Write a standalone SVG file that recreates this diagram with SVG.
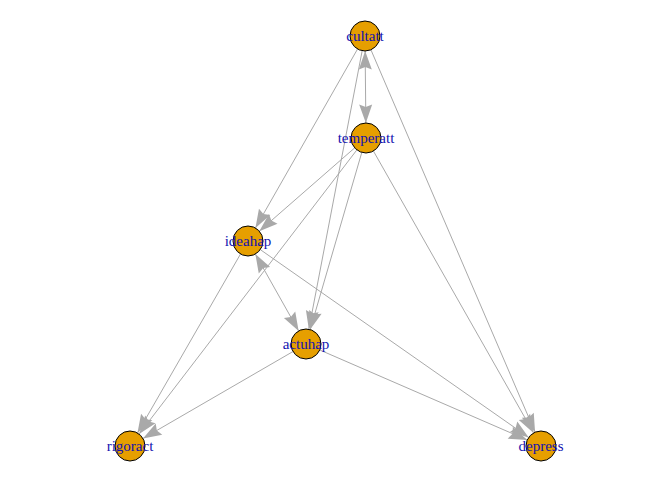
<svg xmlns="http://www.w3.org/2000/svg" width="672" height="480" viewBox="0 0 672 480">
<style>
.e{stroke:#A9A9A9;stroke-width:1;fill:none;marker-end:url(#ah)}
.b{marker-start:url(#ah)}
.n{fill:#E69F00;stroke:#000;stroke-width:1}
.l{font-family:"Liberation Serif","Times New Roman",serif;font-size:15px;fill:#1212B0;text-anchor:middle}
</style>
<defs>
<marker id="ah" markerUnits="userSpaceOnUse" viewBox="-20 -8 21 16" refX="0" refY="0" markerWidth="21" markerHeight="16" orient="auto-start-reverse" overflow="visible">
<path d="M0,0 L-18.5,-6.5 L-16,0 L-18.5,6.5 Z" fill="#A9A9A9"/>
</marker>
</defs>
<rect width="672" height="480" fill="#fff"/>
<g id="edges">
<line class="e b" x1="365.15" y1="51" x2="365.85" y2="123"/>
<line class="e" x1="357.56" y1="49.03" x2="255.44" y2="227.97"/>
<line class="e" x1="362.18" y1="50.73" x2="308.82" y2="329.27"/>
<line class="e" x1="370.92" y1="49.78" x2="535.08" y2="432.22"/>
<line class="e" x1="354.70" y1="147.86" x2="259.30" y2="231.14"/>
<line class="e" x1="361.81" y1="152.40" x2="310.19" y2="329.60"/>
<line class="e" x1="356.88" y1="149.91" x2="139.12" y2="434.09"/>
<line class="e" x1="373.41" y1="151.04" x2="533.59" y2="432.96"/>
<line class="e b" x1="255.36" y1="254.07" x2="298.64" y2="330.93"/>
<line class="e" x1="240.52" y1="254.0" x2="137.48" y2="433.0"/>
<line class="e" x1="260.29" y1="249.60" x2="528.71" y2="437.40"/>
<line class="e" x1="293.02" y1="351.52" x2="142.98" y2="438.48"/>
<line class="e" x1="319.76" y1="349.97" x2="527.24" y2="440.03"/>
</g>
<g id="cultatt"><circle class="n" cx="365" cy="36" r="15"/><text class="l" x="365" y="41">cultatt</text></g>
<g id="temperatt"><circle class="n" cx="366" cy="138" r="15"/><text class="l" x="366" y="143">temperatt</text></g>
<g id="ideahap"><circle class="n" cx="248" cy="241" r="15"/><text class="l" x="248" y="246">ideahap</text></g>
<g id="actuhap"><circle class="n" cx="306" cy="344" r="15"/><text class="l" x="306" y="349">actuhap</text></g>
<g id="rigoract"><circle class="n" cx="130" cy="446" r="15"/><text class="l" x="130" y="451">rigoract</text></g>
<g id="depress"><circle class="n" cx="541" cy="446" r="15"/><text class="l" x="541" y="451">depress</text></g>
</svg>
